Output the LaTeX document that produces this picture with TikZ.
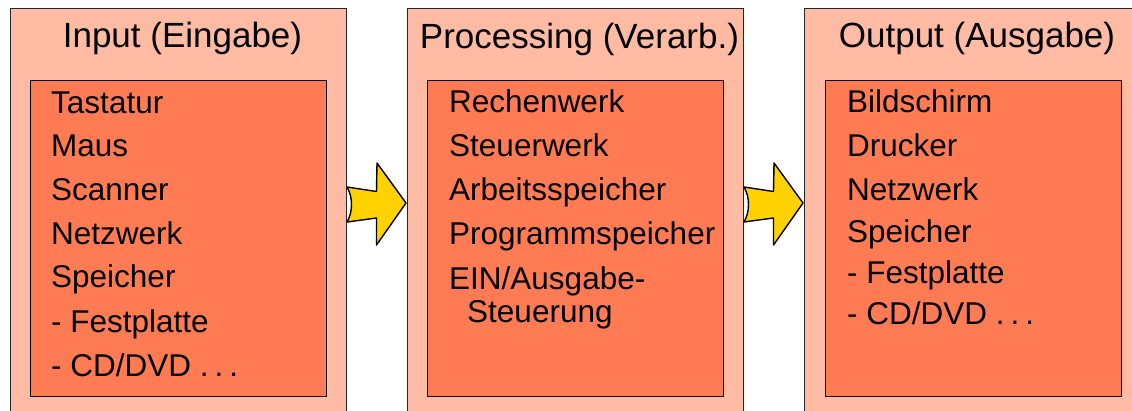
\documentclass[tikz,border=0pt]{standalone}
\usepackage{fontspec}
\setmainfont{Liberation Sans}
\definecolor{outerfill}{HTML}{FFBBA3}
\definecolor{innerfill}{HTML}{FF7B53}
\definecolor{arrowfill}{HTML}{FFD200}
\newcommand{\mydots}{.\kern6pt.\kern6pt.}
\begin{document}
\begin{tikzpicture}[x=1pt,y=-1pt,
  outerbox/.style={draw=black!85,line width=1.3pt,fill=outerfill,anchor=north west,
    minimum width=336pt,minimum height=430pt,inner sep=0pt},
  innerbox/.style={draw=black,line width=1.3pt,fill=innerfill,anchor=north west,
    minimum width=296pt,minimum height=316pt,inner sep=0pt},
  titletext/.style={font=\fontsize{35}{40}\selectfont,anchor=base,inner sep=0pt},
  itemtext/.style={font=\fontsize{31.5}{36}\selectfont,anchor=base west,inner sep=0pt},
  blockarrow/.style={draw=black,line width=1.4pt,fill=arrowfill,line join=round}]
\useasboundingbox (0,0) rectangle (1132,411);
\clip (0,0) rectangle (1132,411);
\fill[white] (0,0) rectangle (1132,411);

% boxes
\node[outerbox] (inout) at (10,8) {};
\node[outerbox] (procout) at (407,8) {};
\node[outerbox] (outout) at (804,8) {};
\node[innerbox] (inin) at (30,80) {};
\node[innerbox] (procin) at (427,80) {};
\node[innerbox] (outin) at (825,80) {};

% arrows
\foreach \dx/\nm in {0/arrA,397/arrB}{
  \begin{scope}[xshift=\dx pt]
    \draw[blockarrow] (347,187) -- (376.5,191.5) -- (377,163) -- (406,203)
      -- (376.5,245) -- (376.5,218) -- (347,222)
      .. controls (353,212) and (353,197) .. cycle;
    \coordinate (\nm) at (376,203);
  \end{scope}
}

% titles
\node[titletext] (tin) at (182.5,48) {Input (Eingabe)};
\node[titletext] (tproc) at (579.5,49) {Processing (Verarb.)};
\node[titletext] (tout) at (977,48) {Output (Ausgabe)};

% input items
\node[itemtext] (i1) at (51,114) {Tastatur};
\node[itemtext] (i2) at (51,157) {Maus};
\node[itemtext] (i3) at (51,201) {Scanner};
\node[itemtext] (i4) at (51,245) {Netzwerk};
\node[itemtext] (i5) at (51,288) {Speicher};
\node[itemtext] (i6) at (51,333) {- Festplatte};
\node[itemtext] (i7) at (51,377) {- CD/DVD \mydots};

% processing items
\node[itemtext] (p1) at (449,113) {Rechenwerk};
\node[itemtext] (p2) at (449,157) {Steuerwerk};
\node[itemtext] (p3) at (449,201) {Arbeitsspeicher};
\node[itemtext] (p4) at (449,245) {Programmspeicher};
\node[itemtext] (p5) at (449,290) {EIN/Ausgabe-};
\node[itemtext] (p6) at (467,323) {Steuerung};

% output items
\node[itemtext] (o1) at (847,113) {Bildschirm};
\node[itemtext] (o2) at (847,157) {Drucker};
\node[itemtext] (o3) at (847,201) {Netzwerk};
\node[itemtext] (o4) at (847,243) {Speicher};
\node[itemtext] (o5) at (847,284) {- Festplatte};
\node[itemtext] (o6) at (847,325) {- CD/DVD \mydots};
\end{tikzpicture}
\end{document}
